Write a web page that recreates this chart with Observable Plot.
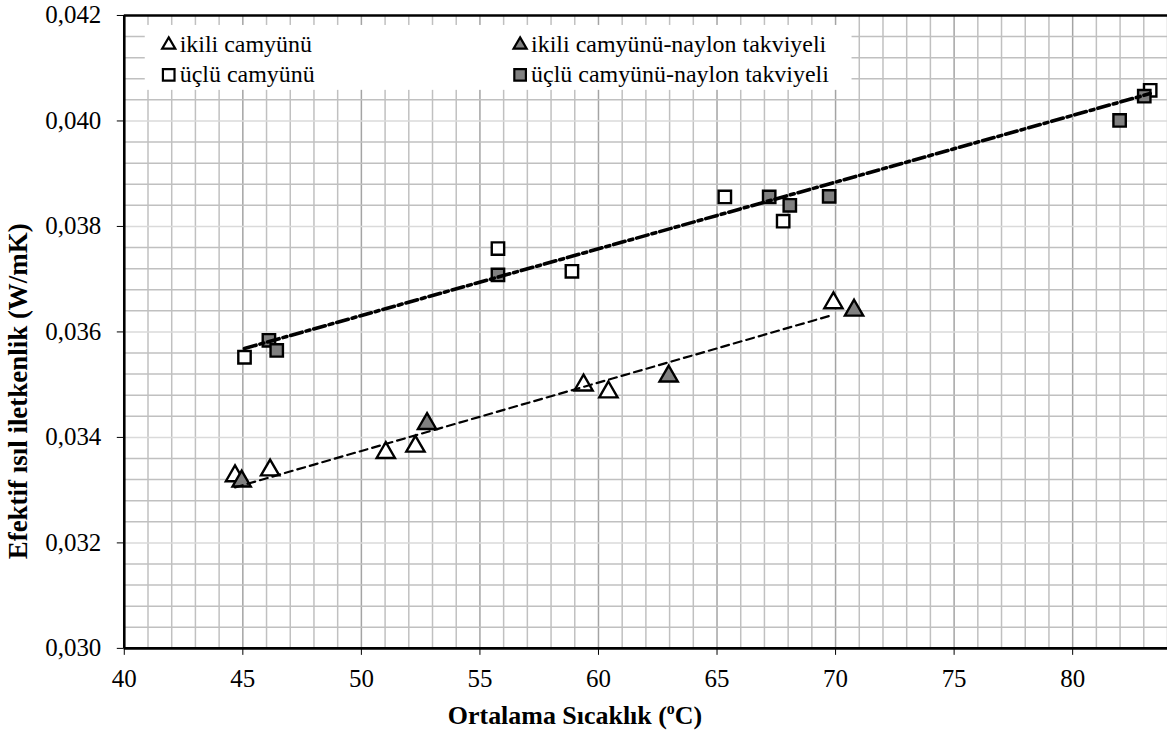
<!DOCTYPE html>
<html><head><meta charset="utf-8">
<script src="https://cdn.jsdelivr.net/npm/d3@7"></script>
<script src="https://cdn.jsdelivr.net/npm/@observablehq/plot@0.6"></script>
<style>
html,body{margin:0;padding:0;background:#fff;overflow:hidden;}
#chart{width:1167px;height:737px;overflow:hidden;position:relative;}
#chart svg text{font-family:"Liberation Serif","Times New Roman",serif !important;}
</style></head><body><div id="chart"></div>
<script>
// Series names (legend order)
const seriesNames = ["ikili camyünü", "üçlü camyünü", "ikili camyünü-naylon takviyeli", "üçlü camyünü-naylon takviyeli"];

// ikili camyünü (open triangles)
const ikiliX = [44.67, 46.15, 51.03, 52.28, 59.37, 60.42, 69.91];
const ikiliY = [0.03327, 0.03338, 0.03371, 0.03383, 0.03499, 0.03486, 0.03655];

// üçlü camyünü (open squares)
const ucluX = [45.07, 55.76, 58.88, 65.33, 67.79, 83.27];
const ucluY = [0.03552, 0.03758, 0.03715, 0.03856, 0.03810, 0.04058];

// ikili camyünü-naylon takviyeli (filled triangles)
const ikiliNX = [44.95, 52.77, 62.96, 70.78];
const ikiliNY = [0.03317, 0.03426, 0.03516, 0.03641];

// üçlü camyünü-naylon takviyeli (filled squares)
const ucluNX = [46.10, 46.43, 55.76, 67.20, 68.07, 69.73, 81.98, 83.02];
const ucluNY = [0.03584, 0.03565, 0.03708, 0.03856, 0.03840, 0.03857, 0.04001, 0.04047];

// Axes
const xTicks = [40, 45, 50, 55, 60, 65, 70, 75, 80];
const yTicks = [0.030, 0.032, 0.034, 0.036, 0.038, 0.040, 0.042];
const xDomain = [40, 84];
const yDomain = [0.030, 0.042];
const xLabel = ["Ortalama Sıcaklık (", "o", "C)"];
const yLabel = "Efektif ısıl iletkenlik (W/mK)";

const rows = (xs, ys) => xs.map((x, i) => ({x, y: ys[i]}));
const ikili = rows(ikiliX, ikiliY);
const uclu = rows(ucluX, ucluY);
const ikiliN = rows(ikiliNX, ikiliNY);
const ucluN = rows(ucluNX, ucluNY);

// grid positions (minor step 1 on x, 0.0004 on y)
const xGrid = d3.range(xDomain[0] + 1, xDomain[1] + 1, 1);
const yGrid = d3.range(1, 30).map(i => yDomain[0] + i * 0.0004);
const xGridMinor = xGrid.filter(v => v % 5 !== 0);
const xGridMajor = xGrid.filter(v => v % 5 === 0);
const yGridMinor = yGrid.filter((v, i) => (i + 1) % 5 !== 0);
const yGridMajor = yGrid.filter((v, i) => (i + 1) % 5 === 0);

const grey = "#808080";
const font = "Liberation Serif, Times New Roman, serif";

const plot = Plot.plot({
  width: 1169,
  height: 737,
  marginLeft: 124,
  marginRight: 0,
  marginTop: 15,
  marginBottom: 88,
  style: {fontFamily: font, fontSize: "25px", color: "black", background: "white"},
  x: {domain: xDomain, ticks: xTicks, tickSize: 7, tickPadding: 14, label: null, tickFormat: d => String(d)},
  y: {domain: yDomain, ticks: yTicks, tickSize: 7, tickPadding: 16, label: null,
      tickFormat: d => d.toFixed(3).replace(".", ",")},
  marks: [
    Plot.ruleX(xGridMinor, {stroke: "#c0c0c0", strokeWidth: 1.5}),
    Plot.ruleX(xGridMajor, {stroke: "#a4a4a4", strokeWidth: 1.5}),
    Plot.ruleY(yGridMinor, {stroke: "#c0c0c0", strokeWidth: 1.5}),
    Plot.ruleY(yGridMajor, {stroke: "#dadada", strokeWidth: 1.5}),
    Plot.dot(ikili, {x: "x", y: "y", symbol: "triangle", r: 6.8, fill: "white", stroke: "black", strokeWidth: 2.4}),
    Plot.dot(ikiliN, {x: "x", y: "y", symbol: "triangle", r: 6.8, fill: grey, stroke: "black", strokeWidth: 2.4}),
    Plot.dot(uclu, {x: "x", y: "y", symbol: "square", r: 7, fill: "white", stroke: "black", strokeWidth: 2.4}),
    Plot.dot(ucluN, {x: "x", y: "y", symbol: "square", r: 7, fill: grey, stroke: "black", strokeWidth: 2.4}),
    Plot.linearRegressionY(ikili, {x: "x", y: "y", ci: 0, stroke: "black", strokeWidth: 2.2, strokeDasharray: "8,5"}),
    Plot.linearRegressionY(uclu, {x: "x", y: "y", ci: 0, stroke: "black", strokeWidth: 3.6, strokeDasharray: "12,4,4,4"}),
    Plot.ruleX([xDomain[0]], {stroke: "black", strokeWidth: 2.6}),
    Plot.ruleY(yDomain, {stroke: "black", strokeWidth: 2.6})
  ]
});

const svg = d3.select(plot);

// Legend (white box over the grid)
const lg = svg.append("g").attr("font-size", 24).attr("fill", "black").attr("text-anchor", "start");
lg.append("rect").attr("x", 145).attr("y", 25).attr("width", 708).attr("height", 65).attr("fill", "white");
const legendItems = [
  {name: seriesNames[0], sym: d3.symbolTriangle, fill: "white", x: 169, y: 45},
  {name: seriesNames[1], sym: d3.symbolSquare, fill: "white", x: 169, y: 75},
  {name: seriesNames[2], sym: d3.symbolTriangle, fill: grey, x: 521, y: 45},
  {name: seriesNames[3], sym: d3.symbolSquare, fill: grey, x: 521, y: 75}
];
for (const it of legendItems) {
  const size = it.sym === d3.symbolTriangle ? 75 : 135;
  lg.append("path").attr("d", d3.symbol(it.sym, size)()).attr("transform", `translate(${it.x},${it.y})`)
    .attr("fill", it.fill).attr("stroke", "black").attr("stroke-width", 2.2);
  lg.append("text").attr("x", it.x + 11).attr("y", it.y + 7).attr("text-anchor", "start").text(it.name);
}

// Axis titles
const xt = svg.append("text").attr("x", 576).attr("y", 725).attr("text-anchor", "middle")
  .attr("font-weight", "bold").attr("font-size", 26).attr("fill", "black");
xt.append("tspan").text(xLabel[0]);
xt.append("tspan").attr("dy", -10).attr("font-size", 16).text(xLabel[1]);
xt.append("tspan").attr("dy", 10).text(xLabel[2]);

svg.append("text").attr("transform", "translate(27,392) rotate(-90)").attr("text-anchor", "middle")
  .attr("font-weight", "bold").attr("font-size", 27).attr("fill", "black")
  .text(yLabel);

document.getElementById("chart").appendChild(plot);
</script>
</body></html>
